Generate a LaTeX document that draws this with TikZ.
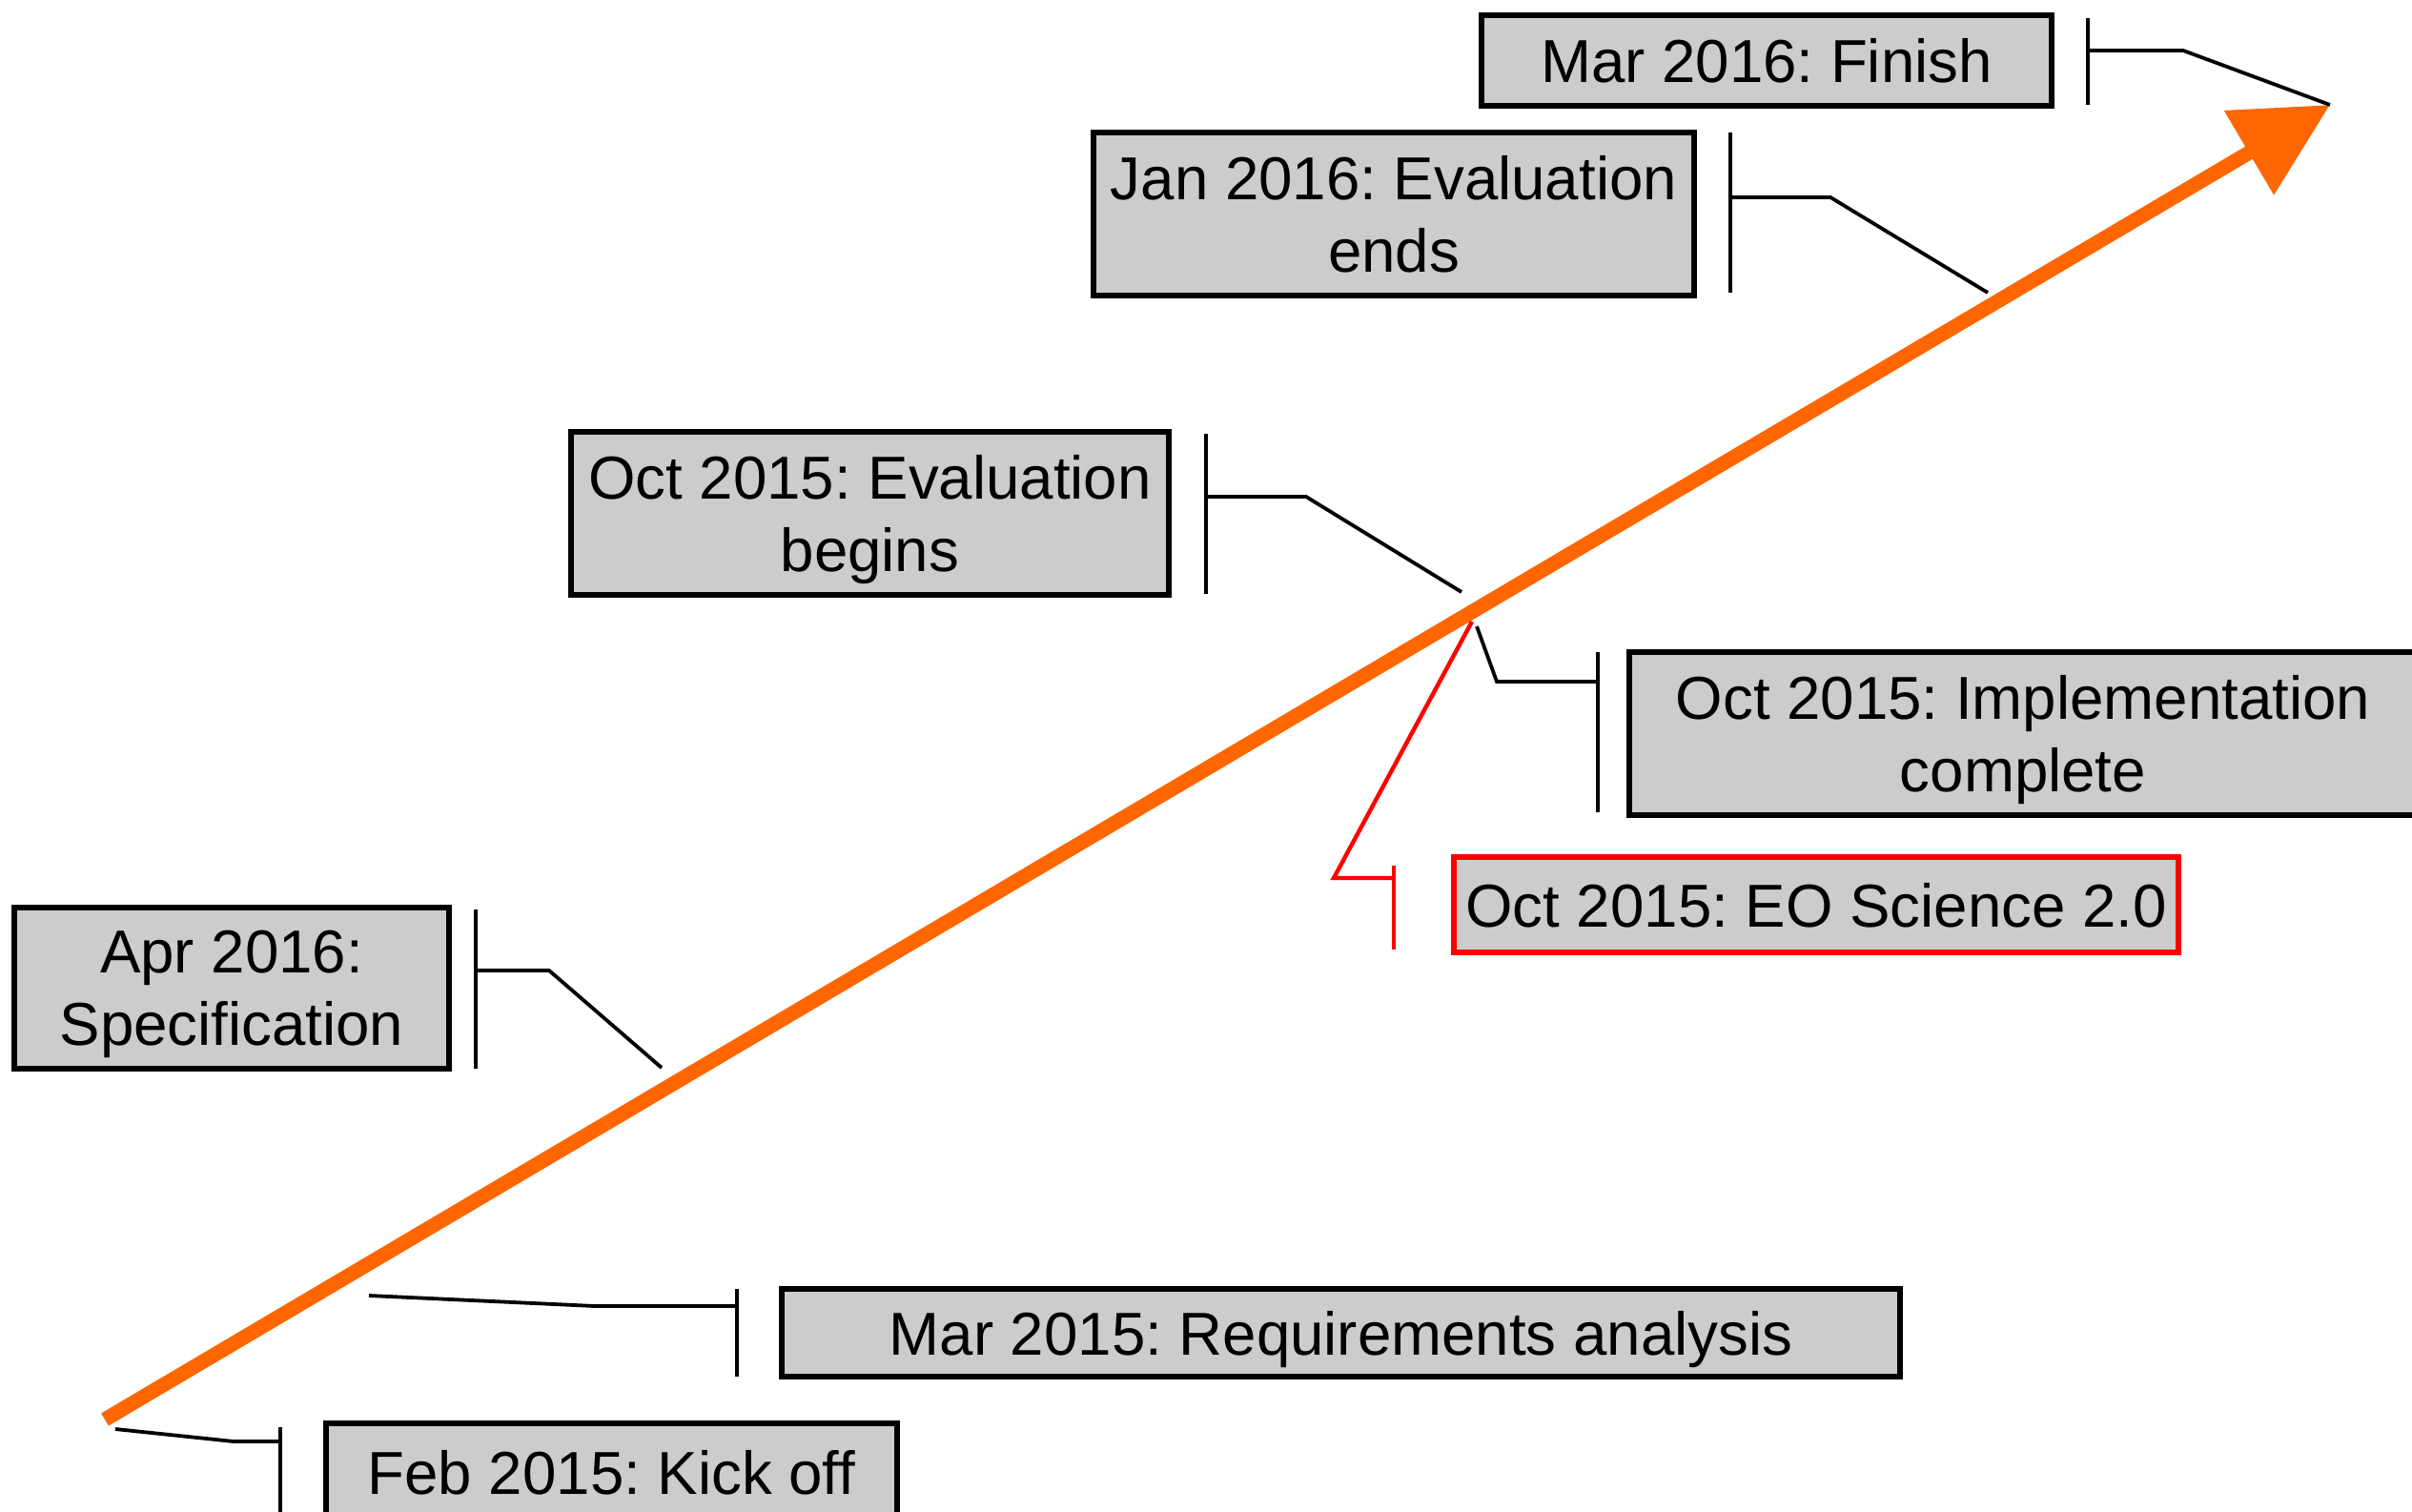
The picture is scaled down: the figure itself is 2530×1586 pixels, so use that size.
\documentclass[tikz,border=0pt]{standalone}
\usepackage{fontspec}
\setmainfont{Liberation Sans}
\usetikzlibrary{arrows.meta}
\definecolor{boxgray}{HTML}{CCCCCC}
\definecolor{arroworange}{HTML}{FF6600}
\begin{document}
\frenchspacing
\begin{tikzpicture}[x=0.25pt,y=-0.25pt,
  box/.style={draw=black,fill=boxgray,line width=1.4pt,inner sep=0pt,align=center,
    text depth=0pt,font=\fontsize{15.9}{19}\selectfont},
  redbox/.style={box,draw=red,line width=1.7pt},
  conn/.style={draw=black,line width=0.95pt},
  redconn/.style={draw=red,line width=1.1pt},
  timeline/.style={draw=arroworange,line width=3.8pt,-{Triangle[length=24.7pt,width=24.7pt]}}]
\useasboundingbox (0,0) rectangle (2530,1586);

% timeline arrow
\coordinate (tstart) at (110,1489);
\coordinate (tend) at (2444,110);
\draw[timeline] (tstart) -- (tend);

% boxes
\node[box,minimum width=149.5pt,minimum height=23.75pt] (fin) at (1853,63.5) {Mar 2016: Finish};
\node[box,minimum width=157.5pt,minimum height=42.75pt] (jan) at (1462,224.5) {Jan 2016: Evaluation\\ends};
\node[box,minimum width=156.75pt,minimum height=42.75pt] (evb) at (912.5,538.5) {Oct 2015: Evaluation\\begins};
\node[box,minimum width=206.5pt,minimum height=42.75pt] (imp) at (2122,769.5) {Oct 2015: Implementation\\complete};
\node[redbox,minimum width=190pt,minimum height=25pt] (eos) at (1905,949) {Oct 2015: EO Science 2.0};
\node[box,minimum width=114pt,minimum height=42.25pt] (apr) at (243,1036.5) {Apr 2016:\\Specification};
\node[box,minimum width=293.25pt,minimum height=23pt] (req) at (1406.5,1398) {Mar 2015: Requirements analysis};
\node[box,minimum width=149.75pt,minimum height=25.5pt] (kick) at (641.5,1544) {Feb 2015: Kick off};

% Finish
\coordinate (finA) at (2190,19); \coordinate (finB) at (2190,110);
\coordinate (finJ) at (2190,53); \coordinate (finE) at (2444,110);
\draw[conn] (finA) -- (finB);
\draw[conn] (finJ) -- (2290,53) -- (finE);

% Jan 2016
\coordinate (janA) at (1815,139); \coordinate (janB) at (1815,307);
\coordinate (janJ) at (1815,207); \coordinate (janE) at (2085,307);
\draw[conn] (janA) -- (janB);
\draw[conn] (janJ) -- (1920,207) -- (janE);

% Evaluation begins
\coordinate (evbA) at (1265,455); \coordinate (evbB) at (1265,623);
\coordinate (evbJ) at (1265,521); \coordinate (evbE) at (1533,621);
\draw[conn] (evbA) -- (evbB);
\draw[conn] (evbJ) -- (1370,521) -- (evbE);

% Implementation complete
\coordinate (impA) at (1676,684); \coordinate (impB) at (1676,852);
\coordinate (impJ) at (1676,715); \coordinate (impE) at (1549,657);
\draw[conn] (impA) -- (impB);
\draw[conn] (impJ) -- (1570,715) -- (impE);

% EO Science 2.0
\coordinate (eosA) at (1462,908); \coordinate (eosB) at (1462,996);
\coordinate (eosJ) at (1462,921); \coordinate (eosE) at (1544,652);
\draw[redconn] (eosA) -- (eosB);
\draw[redconn] (eosJ) -- (1399,921) -- (eosE);

% Specification
\coordinate (aprA) at (499,954); \coordinate (aprB) at (499,1121);
\coordinate (aprJ) at (499,1018); \coordinate (aprE) at (694,1120);
\draw[conn] (aprA) -- (aprB);
\draw[conn] (aprJ) -- (576,1018) -- (aprE);

% Requirements analysis
\coordinate (reqA) at (773,1352); \coordinate (reqB) at (773,1444);
\coordinate (reqJ) at (773,1370); \coordinate (reqE) at (387,1359);
\draw[conn] (reqA) -- (reqB);
\draw[conn] (reqJ) -- (624,1370) -- (reqE);

% Kick off
\coordinate (kickA) at (294,1497); \coordinate (kickB) at (294,1590);
\coordinate (kickJ) at (294,1512); \coordinate (kickE) at (121,1499);
\draw[conn] (kickA) -- (kickB);
\draw[conn] (kickJ) -- (245,1512) -- (kickE);
\end{tikzpicture}
\end{document}
